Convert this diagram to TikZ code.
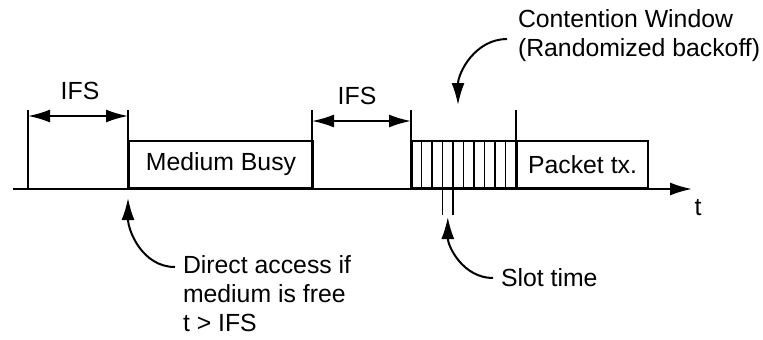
\documentclass[tikz,border=0pt]{standalone}
\usepackage{fontspec}
\setmainfont{Liberation Sans}
\usepackage{tikz}
\usetikzlibrary{shapes,arrows.meta,positioning}
\tikzstyle{block} = [rectangle, draw, anchor=south west, inner sep=0pt,
    minimum height=23.5pt, font=\fontsize{12.4}{14.5}\selectfont]
\tikzstyle{txt} = [inner sep=0pt, align=left, font=\fontsize{12.4}{14.5}\selectfont]
\tikzstyle{line} = [draw, -{Latex[length=11pt,width=6.5pt]}]
\tikzstyle{span} = [draw, {Latex[length=11pt,width=6.5pt]}-{Latex[length=11pt,width=6.5pt]}]
\tikzstyle{tick} = [draw, line width=0.6pt]

\begin{document}
\begin{tikzpicture}[x=0.5pt, y=-0.5pt, line width=1pt]
    \useasboundingbox (0,0) rectangle (763,339);
    % Time axis
    \coordinate (start) at (13,189);
    \coordinate (end) at (692,189);
    \coordinate (s1) at (28,189);
    \coordinate (s2) at (128,189);
    \coordinate (s3) at (312,189);
    \coordinate (s4) at (411,189);
    \coordinate (s5) at (516,189);
    \path [line] (start) -- (end);
    \node [txt] (t) at (698,208) {t};
    % Place nodes
    \node [block, minimum width=92pt] (busy) at (s2) {Medium Busy\hspace{5pt}};
    \node [block, minimum width=52.5pt] (cw) at (s4) {};
    \node [block, minimum width=65.5pt] (packet) at (s5) {Packet tx.};
    \foreach \s in {s1,s2,s3,s4,s5}
        \draw (\s) -- ++(0,-79);
    % Slots
    \foreach \i in {1,...,9}
        \draw [tick] ([xshift=\i*5.25pt]cw.south west) -- ([xshift=\i*5.25pt]cw.north west);
    \draw [tick] ([xshift=15.75pt]cw.south west) -- ++(0,26);
    \draw [tick] ([xshift=21pt]cw.south west) -- ++(0,26);
    \coordinate (slot) at ([xshift=18.4pt, yshift=-14pt]cw.south west);
    % IFS spans
    \path [span] ([yshift=36.5pt]s1) -- ([yshift=36.5pt]s2);
    \node [txt] (ifs1) at (80,91) {IFS};
    \path [span] ([yshift=34pt]s3) -- ([yshift=34pt]s4);
    \node [txt] (ifs2) at (357,96) {IFS};
    % Notes
    \node [txt, anchor=north west] (cwnote) at (517,9) {Contention Window\\(Randomized backoff)};
    \coordinate (cwtip) at (458,105);
    \path [line] ([shift={(-10,3)}]cwnote.west) to[out=180,in=90] (cwtip);
    \node [txt, anchor=north west] (access) at (182,255) {Direct access if\\medium is free\\t > IFS};
    \coordinate (acctip) at (128,198);
    \path [line] ([shift={(-7,12)}]access.north west) to[out=180,in=-90] (acctip);
    \node [txt, anchor=west] (slotnote) at (500,278) {Slot time};
    \path [line] ([xshift=-3.5pt]slotnote.west) to[out=180,in=-90] (slot);
\end{tikzpicture}
\end{document}
